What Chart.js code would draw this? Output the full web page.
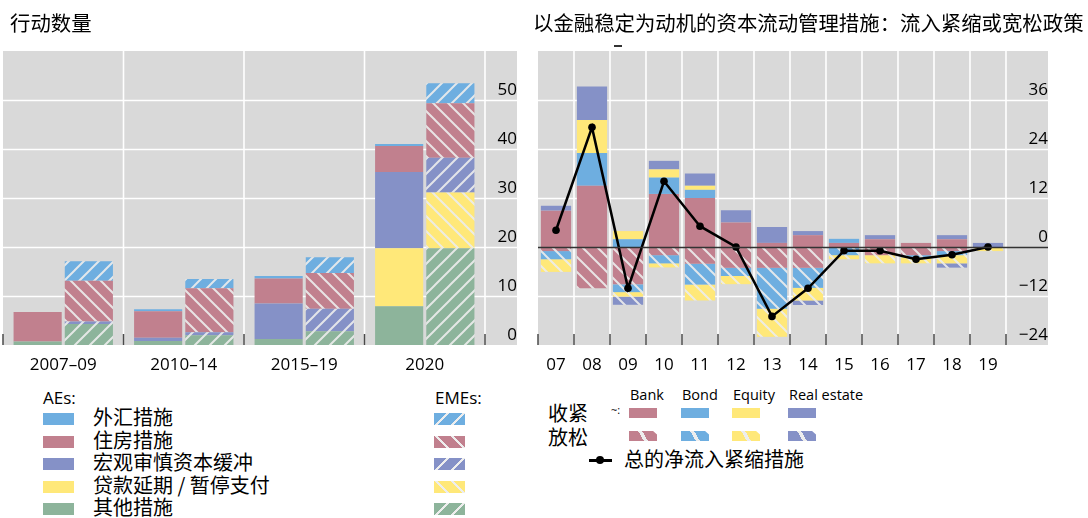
<!DOCTYPE html>
<html><head><meta charset="utf-8">
<script src="https://cdn.jsdelivr.net/npm/chart.js@4/dist/chart.umd.min.js"></script>
<style>
body{margin:0;background:#fff;width:1088px;height:518px;overflow:hidden;position:relative;font-family:'Open Sans','Noto Sans CJK SC',sans-serif;color:#000}
.abs{position:absolute;white-space:nowrap}
.cjk{font-family:'Noto Sans CJK SC',sans-serif}
canvas{position:absolute;top:0}
</style></head><body>
<canvas id="c1" width="530" height="380" style="left:0"></canvas>
<canvas id="c2" width="558" height="380" style="left:530px"></canvas>
<div class="abs cjk" style="left:10px;top:10px;font-size:20.4px;line-height:24px">行动数量</div>
<div class="abs cjk" style="left:533px;top:10px;font-size:20.4px;line-height:24px">以金融稳定为动机的资本流动管理措施：流入紧缩或宽松政策</div>
<div class="abs" style="left:614px;top:45px;width:8px;height:2px;background:#333"></div>
<div id="leg"></div>
<script>
// ---------- Data: left chart (number of actions) ----------
const periods = ['2007–09', '2010–14', '2015–19', '2020'];
const measureNames = ['外汇措施', '住房措施', '宏观审慎资本缓冲', '贷款延期 / 暂停支付', '其他措施'];
const aeFx        = [0,    0.4,  0.55, 0.4];
const aeHousing   = [6.05, 5.4,  5.1,  5.3];
const aeMacro     = [0,    0.7,  7.25, 15.55];
const aeMoratoria = [0,    0,    0,    11.85];
const aeOther     = [0.7,  0.8,  1.2,  7.9];
const emeFx        = [4.0,  1.85, 3.2,  4.05];
const emeHousing   = [8.3,  9.0,  7.3,  11.15];
const emeMacro     = [0.5,  0.6,  4.6,  7.1];
const emeMoratoria = [0,    0,    0,    11.35];
const emeOther     = [4.3,  2.0,  2.8,  19.75];
const leftTicks = [0, 10, 20, 30, 40, 50];

// ---------- Data: right chart (CFMs, tightening / easing) ----------
const years = ['07','08','09','10','11','12','13','14','15','16','17','18','19'];
const tightBank   = [8.9, 15.0, 0,    13.0, 12.0, 6.0, 1.0, 2.9, 1.0, 1.9, 1.0, 1.9, 0];
const tightBond   = [0,   8.0,  1.9,  4.0,  2.0,  0,   0,   0,   1.0, 0,   0,   0,   0];
const tightEquity = [0,   8.1,  2.0,  2.0,  1.0,  0,   0,   0,   0,   0,   0,   0,   0];
const tightRE     = [1.2, 8.2,  0,    2.1,  3.0,  3.0, 3.9, 1.0, 0,   1.0, 0,   1.0, 1.0];
const easeBank    = [-1.0, -10.1, -9.15, -2.0, -4.1, -5.1, -5.1, -5.1, 0,    -2.0, -2.0, -1.0, 0];
const easeBond    = [-2.0, 0,     -1.9,  -2.0, -5.1, -2.0, -10.0,-4.9, -2.0, 0,    -0.5, -1.0, 0];
const easeEquity  = [-3.1, 0,     -1.1,  -1.0, -3.9, -2.0, -6.9, -3.1, -1.0, -2.0, -1.5, -2.0, -1.0];
const easeRE      = [0,    0,     -2.0,  0,    0,    0,    0,    -1.1, 0,    0,    0,    -1.05, 0];
const netTight    = [4.1, 29.3, -10.1, 16.1, 5.1, 0, -17.0, -10.1, -0.9, -0.9, -3.0, -1.9, 0];
const rightTicks = [-24, -12, 0, 12, 24, 36];
const assetNames = ['Bank', 'Bond', 'Equity', 'Real estate'];

// ---------- Styling ----------
const C = {fx:'#6eaee0', housing:'#c1808e', macro:'#8591c7', mora:'#ffe879', other:'#8db49b'};
const GREY = '#d9d9d9';
const HATCH = 'rgba(236,236,236,0.92)';
function hatch(color, dir) {
  const s = 15, cv = document.createElement('canvas');
  cv.width = cv.height = s;
  const g = cv.getContext('2d');
  g.fillStyle = color; g.fillRect(0, 0, s, s);
  g.strokeStyle = HATCH; g.lineWidth = 2;
  g.beginPath();
  if (dir === '/') {
    g.moveTo(-2, s + 2); g.lineTo(s + 2, -2);
    g.moveTo(-2, 2); g.lineTo(2, -2);
    g.moveTo(s - 2, s + 2); g.lineTo(s + 2, s - 2);
  } else {
    g.moveTo(-2, -2); g.lineTo(s + 2, s + 2);
    g.moveTo(-2, s - 2); g.lineTo(2, s + 2);
    g.moveTo(s - 2, -2); g.lineTo(s + 2, 2);
  }
  g.stroke();
  return g.createPattern(cv, 'repeat');
}
const FONT = {family: "'Open Sans', sans-serif", size: 17};

const bgPlugin = {
  id: 'bg',
  beforeDraw(chart, args, opts) {
    const {ctx, chartArea: a, scales: {x, y}} = chart;
    ctx.save();
    ctx.fillStyle = GREY;
    ctx.fillRect(a.left, a.top, y.right - a.left, a.bottom - a.top);
    ctx.strokeStyle = '#ffffff'; ctx.lineWidth = 1.6;
    for (const t of y.ticks) {
      if (t.value === y.max || t.value === y.min || t.value === opts.zero) continue;
      const py = Math.round(y.getPixelForValue(t.value)) + 0.5;
      ctx.beginPath(); ctx.moveTo(a.left, py); ctx.lineTo(y.right, py); ctx.stroke();
    }
    const n = x.ticks.length;
    for (let i = 1; i <= n; i++) {
      const px = a.left + (a.right - a.left) * i / n;
      ctx.beginPath(); ctx.moveTo(px, a.top); ctx.lineTo(px, a.bottom); ctx.stroke();
    }
    ctx.strokeStyle = '#4a4a4a'; ctx.lineWidth = 1.5;
    for (let i = 0; i <= n; i++) {
      const px = a.left + (a.right - a.left) * i / n;
      ctx.beginPath(); ctx.moveTo(px, a.bottom - 11); ctx.lineTo(px, a.bottom); ctx.stroke();
    }
    ctx.restore();
  },
  afterDatasetsDraw(chart, args, opts) {
    if (opts.zero === undefined) return;
    const {ctx, chartArea: a, scales: {y}} = chart;
    const py = Math.round(y.getPixelForValue(opts.zero)) + 0.5;
    ctx.save(); ctx.strokeStyle = '#333'; ctx.lineWidth = 1.6;
    ctx.beginPath(); ctx.moveTo(a.left, py); ctx.lineTo(y.right, py); ctx.stroke();
    ctx.restore();
  }
};

function yAxis(min, max, step, width, fmt) {
  return {
    position: 'right', stacked: true, min, max,
    grid: {display: false, drawTicks: false}, border: {display: false},
    ticks: {stepSize: step, padding: 12, crossAlign: 'far', labelOffset: -10, color: '#000', font: FONT,
      callback: v => (v === max ? '' : fmt(v))},
    afterFit(s) { s.width = width; }
  };
}
function xAxis() {
  return {
    stacked: true,
    grid: {display: false, drawTicks: false}, border: {display: false},
    ticks: {padding: 10, color: '#000', font: FONT, maxRotation: 0, autoSkip: false},
    afterFit(s) { s.height = 35; }
  };
}

// ---------- Left chart ----------
const leftSeries = [
  ['AE', aeOther, C.other, null], ['AE', aeMoratoria, C.mora, null], ['AE', aeMacro, C.macro, null],
  ['AE', aeHousing, C.housing, null], ['AE', aeFx, C.fx, null],
  ['EME', emeOther, C.other, '/'], ['EME', emeMoratoria, C.mora, '\\'], ['EME', emeMacro, C.macro, '/'],
  ['EME', emeHousing, C.housing, '\\'], ['EME', emeFx, C.fx, '/']
];
new Chart(document.getElementById('c1'), {
  type: 'bar',
  data: {
    labels: periods,
    datasets: leftSeries.map(([stack, data, col, dir]) => ({
      stack, data, backgroundColor: dir ? hatch(col, dir) : col, borderWidth: 0,
      categoryPercentage: 0.85, barPercentage: 0.94
    }))
  },
  options: {
    responsive: false, animation: false, devicePixelRatio: 1,
    layout: {padding: {left: 3, top: 51, right: 13, bottom: 0}},
    plugins: {legend: {display: false}, tooltip: {enabled: false}, bg: {}},
    scales: {x: xAxis(), y: yAxis(0, 60, 10, 32, v => String(v))}
  },
  plugins: [bgPlugin]
});

// ---------- Right chart ----------
const fmtR = v => (v < 0 ? '\u2212' + Math.abs(v) : String(v));
const rightSeries = [
  [tightBank, C.housing, false], [tightBond, C.fx, false], [tightEquity, C.mora, false], [tightRE, C.macro, false],
  [easeBank, C.housing, true], [easeBond, C.fx, true], [easeEquity, C.mora, true], [easeRE, C.macro, true]
];
new Chart(document.getElementById('c2'), {
  type: 'bar',
  data: {
    labels: years,
    datasets: [
      {type: 'line', data: netTight, borderColor: '#000', borderWidth: 2.5, pointRadius: 3.8,
        pointBackgroundColor: '#000', pointBorderWidth: 0, stack: 'net', order: 0, tension: 0},
      ...rightSeries.map(([data, col, ease]) => ({
        stack: 's', data, backgroundColor: ease ? hatch(col, '\\') : col, borderWidth: 0, order: 1,
        categoryPercentage: 0.84, barPercentage: 1
      }))
    ]
  },
  options: {
    responsive: false, animation: false, devicePixelRatio: 1,
    layout: {padding: {left: 8, top: 51, right: 40, bottom: 0}},
    plugins: {legend: {display: false}, tooltip: {enabled: false}, bg: {zero: 0}},
    scales: {x: xAxis(), y: yAxis(-24, 48, 12, 42, fmtR)}
  },
  plugins: [bgPlugin]
});

// ---------- Legends (HTML) ----------
const leg = document.getElementById('leg');
function add(html) { leg.insertAdjacentHTML('beforeend', html); }
const legCols = [C.fx, C.housing, C.macro, C.mora, C.other];
const legDirs = ['135deg', '45deg', '135deg', '45deg', '135deg'];
add(`<div class="abs" style="left:43px;top:388px;font-size:17px;line-height:20px">AEs:</div>`);
add(`<div class="abs" style="left:435px;top:388px;font-size:17px;line-height:20px">EMEs:</div>`);
measureNames.forEach((name, i) => {
  const c = 419 + i * 22.6;
  add(`<div class="abs" style="left:43px;top:${c - 6}px;width:31px;height:12px;background:${legCols[i]}"></div>`);
  add(`<div class="abs cjk" style="left:93px;top:${c - 14}px;font-size:20px;line-height:24px">${name}</div>`);
  add(`<div class="abs" style="left:434px;top:${c - 6}px;width:31px;height:12px;background:repeating-linear-gradient(${legDirs[i]}, ${legCols[i]} 0 9px, ${HATCH} 9px 11px)"></div>`);
});
const assetCols = [C.housing, C.fx, C.mora, C.macro];
const assetX = [629, 681, 732, 788];
const headX = [630, 682, 733, 789];
assetNames.forEach((n, i) => {
  add(`<div class="abs" style="left:${headX[i]}px;top:386px;font-size:14.5px;line-height:18px">${n}</div>`);
  add(`<div class="abs" style="left:${assetX[i]}px;top:408px;width:28px;height:10px;background:${assetCols[i]}"></div>`);
  add(`<div class="abs" style="left:${assetX[i]}px;top:431px;width:28px;height:10px;background:linear-gradient(60deg, ${assetCols[i]} 0 44%, ${HATCH} 44% 56%, ${assetCols[i]} 56%);clip-path:polygon(0 0,86% 0,100% 35%,100% 100%,0 100%)"></div>`);
});
add(`<div class="abs cjk" style="left:548px;top:401px;font-size:20px;line-height:24px">收紧</div>`);
add(`<div class="abs cjk" style="left:548px;top:425px;font-size:20px;line-height:24px">放松</div>`);
add(`<div class="abs" style="left:611px;top:403px;font-size:11px;line-height:14px">~:</div>`);
add(`<div class="abs" style="left:589px;top:459px;width:23px;height:2.5px;background:#000"></div>`);
add(`<div class="abs" style="left:596px;top:456px;width:8px;height:8px;border-radius:50%;background:#000"></div>`);
add(`<div class="abs cjk" style="left:624px;top:447px;font-size:20px;line-height:24px">总的净流入紧缩措施</div>`);
</script>
</body></html>
